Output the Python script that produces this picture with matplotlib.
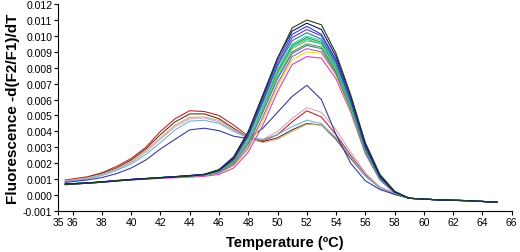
import numpy as np
import matplotlib
matplotlib.use('Agg')
import matplotlib.pyplot as plt

plt.rcParams['font.family'] = ['Liberation Sans', 'DejaVu Sans']

# temperature grid (deg C) shared by all melt curves
temps = [35.5, 37, 38, 39, 40, 41, 42, 43, 44, 45, 46, 47, 48, 49, 50,
         51, 52, 53, 54, 55, 56, 57, 58, 59, 61, 63, 65]

# -d(F2/F1)/dT values, in units of 1e-4
# single-peak curves (one melting domain at ~52 C)
b1 = [6.5, 7.5, 8.2, 9, 9.6, 10.2, 10.8, 11.4, 12, 12.8, 15.5, 23, 39, 62, 86, 105, 110, 107, 89, 63, 33, 13, 2.5, -2, -3, -3.5, -4.5]
b2 = [7, 7.6, 8.3, 9, 9.8, 10.4, 11, 11.6, 12.2, 13, 16, 24, 40, 63, 86, 103, 108, 104, 87, 62, 32, 12, 2, -2, -3, -3.5, -4.5]
b3 = [6.8, 7.5, 8.2, 9.1, 9.8, 10.3, 10.9, 11.5, 12.3, 13, 15.8, 23.5, 39, 61, 84, 101, 106, 101, 85, 60, 31, 12, 2, -2, -3, -3.6, -4.4]
b4 = [7, 7.7, 8.4, 9.2, 9.9, 10.5, 11, 11.6, 12.1, 12.9, 15.2, 22, 37, 59, 82, 99, 104, 100, 84, 59, 30, 11.5, 2, -2, -3.1, -3.5, -4.5]
b5 = [6.8, 7.5, 8.1, 8.9, 9.7, 10.3, 11, 11.6, 12.3, 13.1, 15.6, 23, 38, 59, 81, 97, 102, 98, 83, 59, 30, 11, 1.8, -2, -3, -3.5, -4.5]
b6 = [7, 7.6, 8.3, 9, 9.7, 10.4, 11, 11.5, 12, 12.8, 15, 22, 36, 57, 79, 95, 100, 97, 82, 58, 30, 11, 1.8, -2.1, -3, -3.6, -4.4]
b7 = [6.9, 7.5, 8.2, 9, 9.8, 10.3, 10.9, 11.5, 12.1, 12.9, 15.4, 22.5, 37, 57, 78, 94, 99, 96, 81, 57, 29, 11, 1.7, -2, -3, -3.5, -4.5]
b8 = [7, 7.7, 8.3, 9.1, 9.8, 10.4, 11, 11.6, 12.2, 12.9, 15, 21.5, 35, 55, 77, 93, 98, 95, 80, 56, 29, 10.5, 1.6, -2, -3, -3.5, -4.4]
b9 = [6.8, 7.4, 8.1, 8.9, 9.6, 10.2, 10.8, 11.4, 12, 12.7, 14.8, 21, 34, 54, 76, 92, 97, 95, 79, 55, 28, 10.5, 1.5, -2, -3, -3.6, -4.5]
b10 = [7, 7.6, 8.3, 9, 9.7, 10.3, 10.9, 11.5, 12.1, 12.8, 14.6, 20.5, 33, 53, 74, 90, 95, 93, 78, 55, 28, 10, 1.5, -2, -3, -3.5, -4.5]
b11 = [6.9, 7.5, 8.2, 9, 9.7, 10.3, 10.9, 11.5, 12, 12.7, 14.5, 20, 32, 52, 73, 89, 94, 92, 77, 54, 27, 10, 1.4, -2, -3, -3.5, -4.4]
b12 = [6.8, 7.4, 8.1, 8.9, 9.6, 10.2, 10.8, 11.3, 11.8, 12.4, 14, 19, 30, 49, 70, 87, 92, 90, 76, 54, 27, 10, 1.4, -2, -3, -3.5, -4.5]
b13 = [7, 7.6, 8.2, 9, 9.7, 10.3, 10.8, 11.3, 11.8, 12.4, 13.8, 18.5, 29, 47, 68, 85, 90, 89, 75, 53, 27, 10, 1.3, -2, -3, -3.5, -4.5]
b14 = [6.8, 7.4, 8, 8.8, 9.5, 10, 10.5, 10.9, 11.3, 11.8, 13, 17, 27, 44, 65, 82, 87, 86, 73, 52, 26, 9.5, 1.2, -2, -3, -3.5, -4.5]

# two-peak curves (extra low-temperature domain at ~44 C)
a1 = [9.5, 11.5, 14, 18, 23, 30, 40, 48, 53, 52.5, 50, 44, 37, 34, 38, 46, 53, 49, 38, 25, 13, 5, 1, -2, -3, -3.5, -4.5]
a2 = [9, 11, 13.5, 17, 22, 29, 38, 46, 51, 51, 48, 42, 36, 33.5, 36, 41, 45, 44, 35, 23, 12, 4.5, 0.5, -2, -3, -3.5, -4.5]
a3 = [9, 10.8, 13, 16.5, 21, 28, 36, 44, 49, 49, 47, 41, 35.5, 33, 35, 40, 44.5, 44, 36, 24, 12, 4.5, 0.5, -2, -3, -3.5, -4.5]
a4 = [8.8, 10.5, 12.8, 16, 20.5, 27, 35, 43, 48, 48.5, 46, 41, 36, 35, 40, 48, 55, 52, 41, 27, 14, 5, 1, -2, -3, -3.5, -4.5]
a5 = [8.5, 10.2, 12.3, 15.5, 19.5, 25.5, 33, 41, 46.5, 47, 45, 40, 36, 35, 38, 43, 47, 45, 36, 24, 12, 4.5, 0.5, -2, -3, -3.5, -4.5]
a6 = [8, 9.5, 11, 13.5, 17, 22, 29, 35, 41, 42, 40.5, 37, 35.5, 42, 52, 62, 69, 60, 38, 20, 9, 3.5, 0.5, -2, -3, -3.5, -4.5]

curves = [
    (a1, '#c0282a'), (a2, '#5a3a20'), (a3, '#c8b48c'), (a4, '#d8a8b8'),
    (a5, '#7ab0d8'), (a6, '#3c3c9c'),
    (b14, '#d040d0'), (b13, '#e8e020'), (b12, '#a060c0'), (b11, '#6070a0'),
    (b10, '#40a060'), (b9, '#80c040'), (b8, '#30c0c0'), (b7, '#20a020'),
    (b6, '#40d0d0'), (b5, '#208080'), (b4, '#7030c0'), (b3, '#2040e0'),
    (b2, '#101060'), (b1, '#204020'),
]

fig = plt.figure(figsize=(5.2, 2.53), dpi=100)
ax = fig.add_axes([0.1115, 0.162, 0.8725, 0.818])

for vals, col in curves:
    ax.plot(temps, np.array(vals) * 1e-4, color=col, lw=0.8)

ax.set_xlim(35, 66)
ax.set_ylim(-0.001, 0.012)
ax.set_xticks([35, 36] + list(range(38, 67, 2)))
ax.set_yticks(np.arange(-0.001, 0.0121, 0.001))
ax.set_yticklabels(['%.3f' % v for v in np.arange(-0.001, 0.0121, 0.001)])
ax.tick_params(labelsize=7.5, length=3, width=0.8, pad=1)
for s in ['top', 'right']:
    ax.spines[s].set_visible(False)
ax.set_xlabel('Temperature (ºC)', fontsize=10.5, fontweight='bold', labelpad=6)
ax.set_ylabel('Fluorescence -d(F2/F1)/dT', fontsize=11, fontweight='bold', labelpad=2)

fig.savefig('out.png', dpi=100)
